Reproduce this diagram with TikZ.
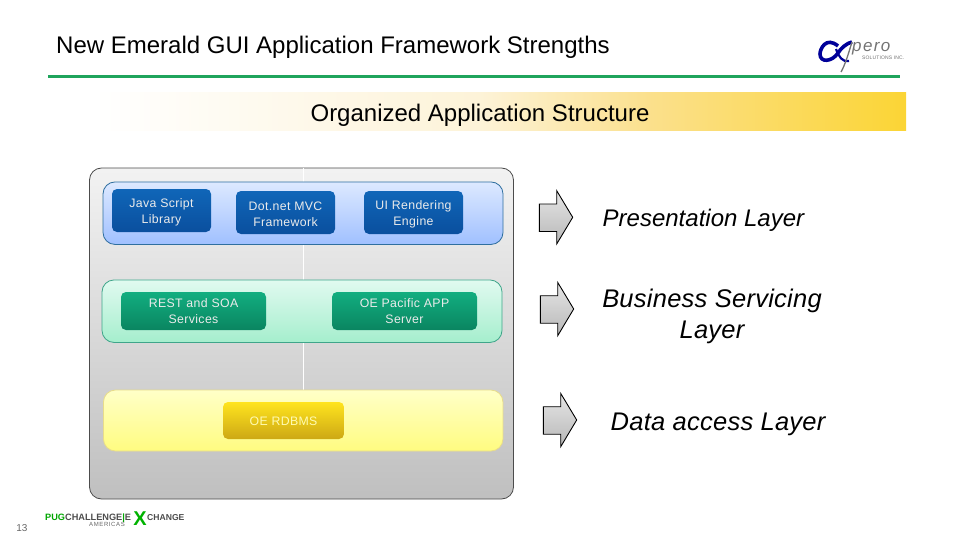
\documentclass[tikz,border=0pt]{standalone}
\usepackage{fontspec}
\setmainfont{Liberation Sans}
\definecolor{rulegreen}{HTML}{1FA45C}
\definecolor{bA}{HTML}{FDF3D8}
\definecolor{bB}{HTML}{FBE08C}
\definecolor{bC}{HTML}{FBD535}
\definecolor{boxblueT}{HTML}{1066B8}
\definecolor{boxblueB}{HTML}{0A4F9E}
\definecolor{boxgreenT}{HTML}{12AE80}
\definecolor{boxgreenB}{HTML}{0A8560}
\definecolor{boxyelT}{HTML}{FFE41E}
\definecolor{boxyelB}{HTML}{CDA815}
\definecolor{bandblueT}{HTML}{DDE9FF}
\definecolor{bandblueB}{HTML}{A0C0FF}
\definecolor{bandblueD}{HTML}{2F6F9F}
\definecolor{bandgreenT}{HTML}{E1FAF0}
\definecolor{bandgreenB}{HTML}{A5EECD}
\definecolor{bandgreenD}{HTML}{3FA58A}
\definecolor{bandyelT}{HTML}{FFFFC8}
\definecolor{bandyelB}{HTML}{FFFC80}
\definecolor{bandyelD}{HTML}{E8DC8A}
\newcommand{\padtop}{\rule{0pt}{13pt}}
\newcommand{\padone}{\rule{0pt}{11pt}}
\tikzset{
  x=1pt,y=-1pt,
  panel/.style={draw=#1,line width=0.8pt,rounded corners=12pt,inner sep=0pt},
  inner/.style={rounded corners=5pt,inner sep=0pt,align=center,text=white!92!black,font=\addfontfeature{LetterSpace=3}\fontsize{12.3}{16}\selectfont},
  heavy/.style={draw=black,line width=0.9pt,top color=white!90!black,bottom color=white!72!black},
  lab/.style={align=center,text=black,inner sep=0pt},
}
\begin{document}
\begin{tikzpicture}
\useasboundingbox (0,0) rectangle (960,540);
% title
\node (title) [anchor=base west,inner sep=0pt,font=\fontsize{24}{26}\selectfont,text=black] at (56,53.5) {New Emerald GUI Application Framework Strengths};
\fill[rulegreen] (48,75) rectangle (900,78.5);
% banner
\shade[left color=white,right color=bA] (95,93) rectangle (480,131);
\shade[left color=bA,right color=bB] (479.5,93) rectangle (650,131);
\shade[left color=bB,right color=bC] (649.5,93) rectangle (906,131);
\node (banner) [inner sep=0pt,font=\fontsize{24}{26}\selectfont,text=black] at (480,115.5) {Organized Application Structure};
% outer panel
\node (outer) [panel=black!70,minimum width=424,minimum height=331,top color=white!95!black,bottom color=white!75!black] at (301.5,333.5) {};
\draw[white,line width=1pt] (outer.north -| 303.5,0) -- (303.5,390);
% blue band
\node (blue) [panel=bandblueD,minimum width=400,minimum height=62.5,top color=bandblueT,bottom color=bandblueB] at (303,213.2) {};
\node (js) [inner,minimum width=99,minimum height=43,top color=boxblueT,bottom color=boxblueB] at (161.5,210.5) {\padtop Java Script\\Library};
\node (mvc) [inner,minimum width=99,minimum height=43,top color=boxblueT,bottom color=boxblueB] at (285.5,212.5) {\padtop Dot.net MVC\\Framework};
\node (ui) [inner,minimum width=99,minimum height=43,top color=boxblueT,bottom color=boxblueB] at (413.5,212.5) {\padtop UI Rendering\\Engine};
% green band
\node (green) [panel=bandgreenD,minimum width=400,minimum height=62.5,top color=bandgreenT,bottom color=bandgreenB] at (302,311.2) {};
\node (rest) [inner,minimum width=145,minimum height=38,top color=boxgreenT,bottom color=boxgreenB] at (193.5,311) {REST and SOA\\Services};
\node (app) [inner,minimum width=145,minimum height=38,top color=boxgreenT,bottom color=boxgreenB] at (404.5,311) {OE Pacific APP\\Server};
% yellow band
\node (yellow) [panel=bandyelD,minimum width=399.5,minimum height=61,top color=bandyelT,bottom color=bandyelB] at (303.2,420.5) {};
\node (db) [inner,minimum width=121,minimum height=37,top color=boxyelT,bottom color=boxyelB,text=yellow!30!white] at (283.5,420.5) {\padone OE RDBMS};
% block arrows
\draw[heavy] (539.3,204) -- (556.7,204) -- (556.7,190.7) -- (572.7,217.3) -- (556.7,244) -- (556.7,231.5) -- (539.3,231.5) -- cycle;
\draw[heavy] (540.3,295.7) -- (557.7,295.7) -- (557.7,282.4) -- (573.7,309) -- (557.7,335.7) -- (557.7,323.2) -- (540.3,323.2) -- cycle;
\draw[heavy] (543.3,406.7) -- (560.7,406.7) -- (560.7,393.4) -- (576.7,420) -- (560.7,446.7) -- (560.7,434.2) -- (543.3,434.2) -- cycle;
% labels
\node (l1) [lab,anchor=base west,font=\fontsize{24}{31}\selectfont\itshape] at (602.5,226.5) {Presentation Layer};
\node (l2) [lab,font=\addfontfeature{LetterSpace=1}\fontsize{25.5}{31}\selectfont\itshape] at (712,316.5) {Business Servicing\\Layer};
\node (l3) [lab,anchor=base west,font=\addfontfeature{LetterSpace=1}\fontsize{25.5}{31}\selectfont\itshape] at (610.5,430) {Data access Layer};
% page number
\node (num) [anchor=base,inner sep=0pt,font=\fontsize{10}{12}\selectfont,text=black!60] at (22,531) {13};
% PUG logo
\node (pug) [anchor=base west,inner sep=0pt,font=\fontsize{9.2}{10}\selectfont\bfseries,text=black!70] at (45,520.5) {\textcolor{green!65!black}{PUG}CHALLENGE\textcolor{green!65!black}{|}E};
\node (xx) [anchor=center,inner sep=0pt,font=\fontsize{20}{20}\selectfont\bfseries,text=green!70!black] at (140,519) {X};
\node (chg) [anchor=base west,inner sep=0pt,font=\fontsize{8.6}{10}\selectfont\bfseries,text=black!70] at (147,520.5) {CHANGE};
\node (am) [anchor=base,inner sep=0pt,font=\addfontfeature{LetterSpace=10}\fontsize{6}{6}\selectfont,text=black!60] at (107,526) {AMERICAS};
% Xpero logo
\draw[blue!60!black,line width=3.6pt] (838,46) .. controls (826,36) and (820,49) .. (820,54) .. controls (820,63) and (832,62) .. (838,53) .. controls (841,48) and (847,43) .. (852,42);
\draw[blue!60!black,line width=2.2pt] (836,49) .. controls (839,57) and (842,62) .. (849,61);
\draw[black!55,line width=1.3pt] (852,42) .. controls (848,55) and (845,65) .. (841,72);
\node (pero) [anchor=base west,inner sep=0pt,font=\addfontfeature{LetterSpace=8}\fontsize{17}{17}\selectfont\itshape,text=black!55] at (852,52) {pero};
\node (sol) [anchor=base west,inner sep=0pt,font=\addfontfeature{LetterSpace=3}\fontsize{5}{5}\selectfont,text=black!55] at (862,60) {SOLUTIONS INC.};
\end{tikzpicture}
\end{document}
